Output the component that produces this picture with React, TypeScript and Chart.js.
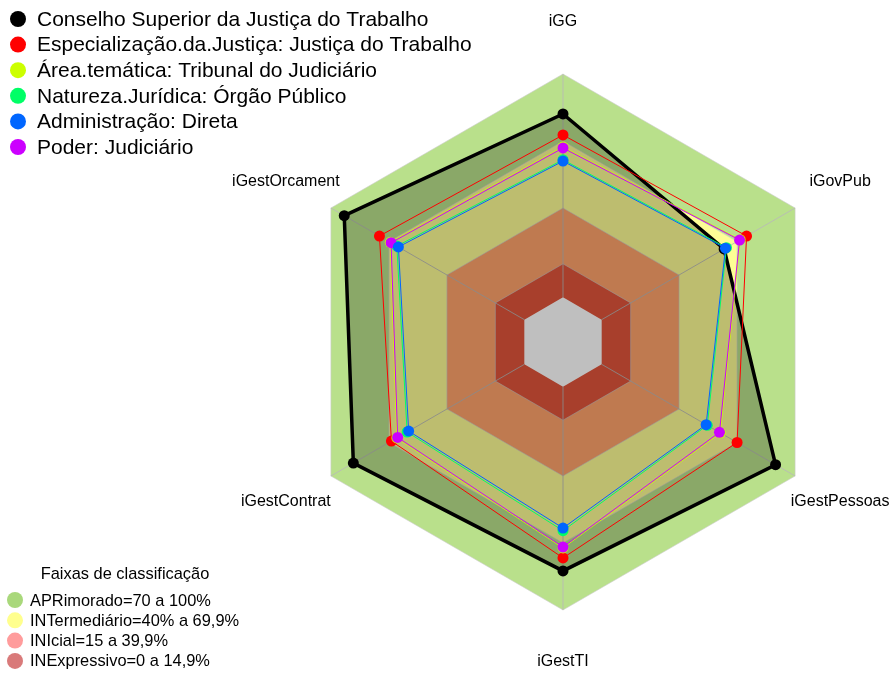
import React, { useEffect, useRef } from 'react';
import { Chart, registerables } from 'chart.js';

Chart.register(...registerables);

// ---- data ----
const axisLabels = ['iGG', 'iGovPub', 'iGestPessoas', 'iGestTI', 'iGestContrat', 'iGestOrcament'];

const seriesNames = [
  'Conselho Superior da Justiça do Trabalho',
  'Especialização.da.Justiça: Justiça do Trabalho',
  'Área.temática: Tribunal do Judiciário',
  'Natureza.Jurídica: Órgão Público',
  'Administração: Direta',
  'Poder: Judiciário',
];
const seriesColors = ['#000000', '#ff0000', '#ccff00', '#00ff66', '#0066ff', '#cc00ff'];

const conselho = [0.821, 0.633, 0.899, 0.825, 0.884, 0.931];
const especializacao = [0.727, 0.749, 0.700, 0.767, 0.687, 0.749];
const areaTematica = [0.673, 0.716, 0.613, 0.722, 0.659, 0.693];
const natureza = [0.616, 0.645, 0.546, 0.645, 0.606, 0.659];
const administracao = [0.610, 0.640, 0.540, 0.633, 0.598, 0.651];
const poder = [0.669, 0.713, 0.609, 0.718, 0.655, 0.689];
const seriesValues = [conselho, especializacao, areaTematica, natureza, administracao, poder];

const bandLimits = [1, 0.7, 0.4, 0.15, 0];
const bandColors = ['#b9e08b', '#fdfd95', '#ffa36b', '#e0553b', '#ffffff'];

const bandLegendTitle = 'Faixas de classificação';
const bandLegendLabels = [
  'APRimorado=70 a 100%',
  'INTermediário=40% a 69,9%',
  'INIcial=15 a 39,9%',
  'INExpressivo=0 a 14,9%',
];
const bandLegendColors = ['#a9d87b', '#ffff8e', '#ff9c9c', '#d97a7a'];

const scaleMin = -0.2;
const scaleMax = 1;

const FONT = "'Liberation Sans', Arial, sans-serif";
const WHITE_INDEX = seriesValues.length + bandLimits.length - 1;

const decorPlugin = {
  id: 'decor',
  afterDatasetDraw(chart: any, args: any) {
    if (args.index !== WHITE_INDEX) return;
    const scale = chart.scales.r;
    const ctx = chart.ctx;
    ctx.save();
    ctx.strokeStyle = 'rgba(185,185,185,0.85)';
    ctx.lineWidth = 1;
    for (let i = 0; i < axisLabels.length; i++) {
      const a = scale.getPointPositionForValue(i, 0);
      const b = scale.getPointPositionForValue(i, scaleMax);
      ctx.beginPath();
      ctx.moveTo(a.x, a.y);
      ctx.lineTo(b.x, b.y);
      ctx.stroke();
    }
    ctx.restore();
  },
  afterDraw(chart: any) {
    const scale = chart.scales.r;
    const ctx = chart.ctx;
    ctx.save();
    // axis labels
    ctx.fillStyle = '#000';
    ctx.font = `16px ${FONT}`;
    ctx.textAlign = 'center';
    ctx.textBaseline = 'middle';
    const dist = scale.drawingArea * (320 / 268);
    axisLabels.forEach((lab, i) => {
      const p = scale.getPointPosition(i, dist);
      ctx.fillText(lab, p.x, p.y);
    });
    // top legend
    ctx.textAlign = 'left';
    ctx.font = `21px ${FONT}`;
    seriesNames.forEach((name, i) => {
      const y = 19 + i * 25.6;
      ctx.beginPath();
      ctx.fillStyle = seriesColors[i];
      ctx.arc(18, y, 8, 0, Math.PI * 2);
      ctx.fill();
      ctx.fillStyle = '#000';
      ctx.fillText(name, 37, y + 1);
    });
    // band legend
    ctx.font = `16.4px ${FONT}`;
    ctx.textAlign = 'center';
    ctx.fillStyle = '#000';
    ctx.fillText(bandLegendTitle, 125, 574);
    ctx.textAlign = 'left';
    bandLegendLabels.forEach((lab, i) => {
      const y = 600 + i * 20.3;
      ctx.beginPath();
      ctx.fillStyle = bandLegendColors[i];
      ctx.arc(15, y, 8, 0, Math.PI * 2);
      ctx.fill();
      ctx.fillStyle = '#000';
      ctx.fillText(lab, 30, y + 1);
    });
    ctx.restore();
  },
};

const seriesOrder = [10, 9, 8, 7, 5, 6];

export default function App() {
  const ref = useRef<HTMLCanvasElement | null>(null);
  useEffect(() => {
    if (!ref.current) return;
    const seriesSets = seriesValues.map((vals, i) => ({
      label: seriesNames[i],
      data: vals,
      borderColor: seriesColors[i],
      backgroundColor: i === 0 ? 'rgba(0,0,0,0.25)' : 'transparent',
      fill: i === 0 ? 'start' : false,
      borderWidth: i === 0 ? 3.5 : 1,
      pointRadius: 5.5,
      pointBorderWidth: 0,
      pointBackgroundColor: seriesColors[i],
      pointBorderColor: seriesColors[i],
      order: seriesOrder[i],
    }));
    const bandSets = bandLimits.map((lim, i) => ({
      label: 'band' + i,
      data: axisLabels.map(() => lim),
      borderColor: i === bandLimits.length - 1 ? 'rgba(0,0,0,0)' : 'rgba(205,205,205,0.6)',
      backgroundColor: bandColors[i],
      fill: 'start',
      borderWidth: 1,
      pointRadius: 0,
      order: 100 - i,
    }));
    const chart = new Chart(ref.current, {
      type: 'radar',
      data: { labels: axisLabels, datasets: [...seriesSets, ...bandSets] as any },
      options: {
        responsive: false,
        animation: false,
        devicePixelRatio: 1,
        layout: { padding: { left: 295, right: 65, top: 74, bottom: 64 } },
        plugins: { legend: { display: false }, tooltip: { enabled: false } },
        elements: { line: { tension: 0 } },
        scales: {
          r: {
            min: scaleMin,
            max: scaleMax,
            beginAtZero: false,
            ticks: { display: false },
            grid: { display: false },
            angleLines: { display: false },
            pointLabels: { display: false },
          },
        },
      } as any,
      plugins: [decorPlugin],
    });
    return () => chart.destroy();
  }, []);
  return (
    <div style={{ position: 'fixed', left: 0, top: 0, width: 896, height: 674, background: '#fff' }}>
      <canvas ref={ref} width={896} height={674} style={{ display: 'block' }} />
    </div>
  );
}
